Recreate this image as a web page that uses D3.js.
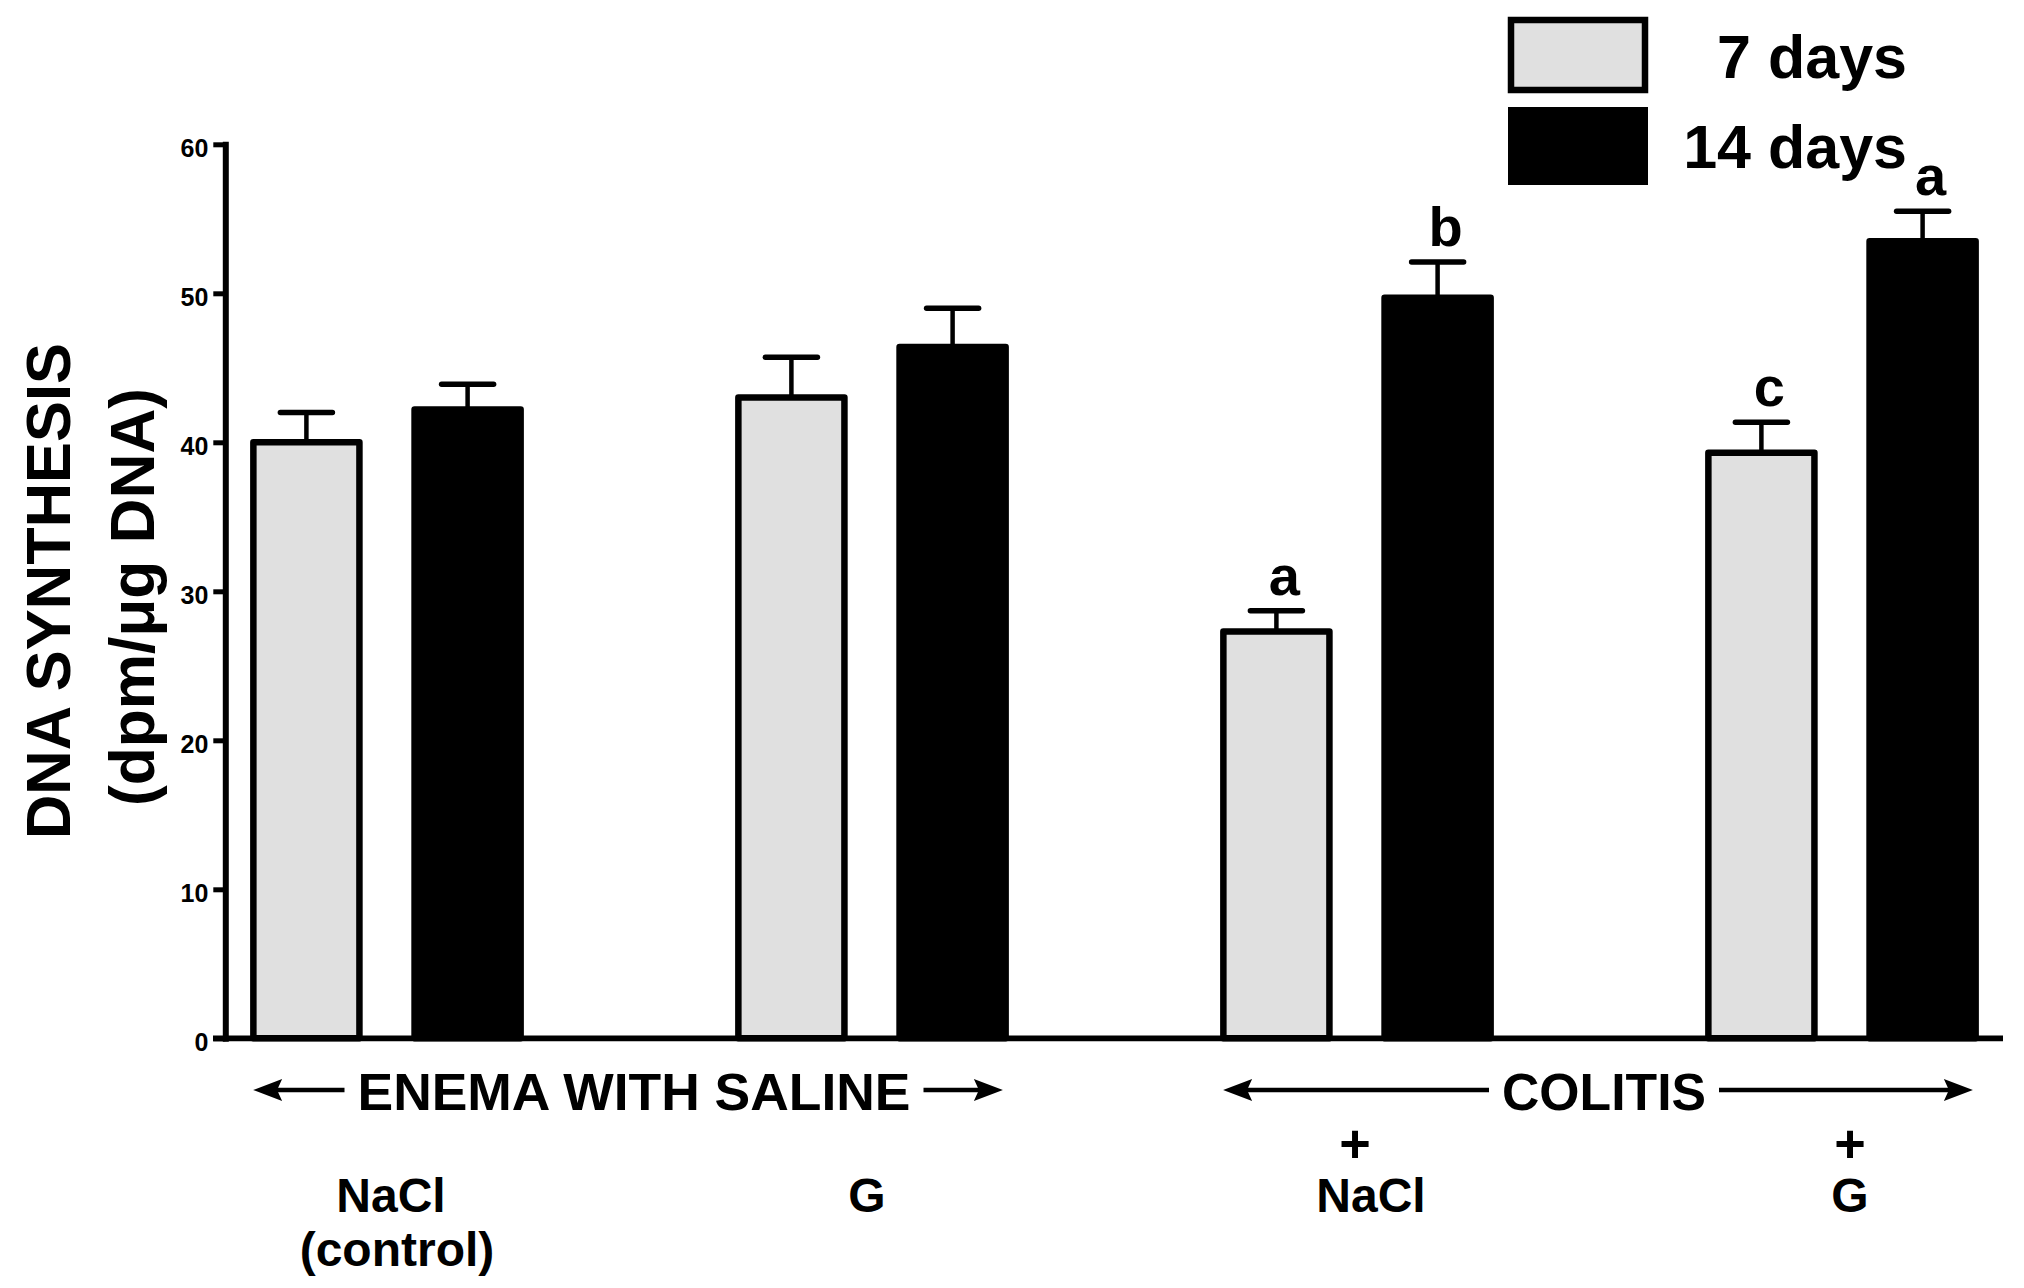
<!DOCTYPE html>
<html>
<head>
<meta charset="utf-8">
<script src="https://cdn.jsdelivr.net/npm/d3@7/dist/d3.min.js"></script>
<style>
  html, body { margin: 0; padding: 0; background: #fff; }
  svg { display: block; }
  text { font-family: "Liberation Sans", Arial, Helvetica, sans-serif; font-weight: bold; fill: #000; }
</style>
</head>
<body>
<svg id="chart" width="2024" height="1288"></svg>
<script>
// ---------------- data ----------------
const groups = ["NaCl (control)", "G", "Colitis + NaCl", "Colitis + G"];
const seriesNames = ["7 days", "14 days"];
const mean7  = [40.0, 43.0, 27.3, 39.3];
const sem7   = [2.0, 2.7, 1.4, 2.05];
const mean14 = [42.2, 46.4, 49.7, 53.5];
const sem14  = [1.7, 2.6, 2.4, 2.0];
const sig7   = ["", "", "a", "c"];
const sig14  = ["", "", "b", "a"];
const yTicks = [0, 10, 20, 30, 40, 50, 60];
const labelPrefix = ["", "", "+", "+"];
const labelMain   = ["NaCl", "G", "NaCl", "G"];
const labelSub    = ["(control)", "", "", ""];
const sections = [
  { name: "ENEMA WITH SALINE", first: 0, last: 1 },
  { name: "COLITIS", first: 2, last: 3 }
];
const yTitle1 = "DNA SYNTHESIS";
const yTitle2 = "(dpm/\u03bcg DNA)";
const seriesFill = ["#e0e0e0", "#000000"];

// ---------------- layout ----------------
const svg = d3.select("#chart");
const FONT = '"Liberation Sans", Arial, Helvetica, sans-serif';
const axisX = 225.3;

const y = d3.scaleLinear().domain([0, 60]).range([1038.3, 144.3]);
const x = d3.scaleBand().domain(groups).range([144.5, 2084.5]).padding(0);
const xSub = d3.scaleBand().domain(seriesNames)
  .range([x.bandwidth() / 2 - 161.2, x.bandwidth() / 2 + 161.2])
  .paddingInner(0.342).paddingOuter(0.171);
const bw = xSub.bandwidth();
const SW = 6.5;

const data = [];
groups.forEach((g, i) => {
  data.push({ g, s: seriesNames[0], si: 0, v: mean7[i], e: sem7[i], sig: sig7[i] });
  data.push({ g, s: seriesNames[1], si: 1, v: mean14[i], e: sem14[i], sig: sig14[i] });
});
const cx = d => x(d.g) + xSub(d.s) + bw / 2;

// ---------------- y axis ----------------
const yAxis = d3.axisLeft(y).tickValues(yTicks).tickSize(12).tickSizeOuter(0).tickPadding(5);
const gy = svg.append("g").attr("transform", `translate(${axisX},0)`).call(yAxis);
gy.select(".domain").attr("stroke", "#000").attr("stroke-width", 6).attr("stroke-linecap", "square");
gy.selectAll(".tick line").attr("stroke", "#000").attr("stroke-width", 5);
gy.selectAll(".tick text")
  .attr("font-family", FONT).attr("font-weight", "bold").attr("font-size", 25)
  .attr("fill", "#000").attr("dy", "0.48em");

// ---------------- bars ----------------
svg.append("g").selectAll("rect").data(data).join("rect")
  .attr("x", d => cx(d) - bw / 2)
  .attr("width", bw)
  .attr("y", d => y(d.v))
  .attr("height", d => y(0) - y(d.v))
  .attr("fill", d => seriesFill[d.si])
  .attr("stroke", "#000")
  .attr("stroke-width", SW)
  .attr("stroke-linejoin", "round");

// error bars
const eg = svg.append("g");
eg.selectAll("line.stem").data(data).join("line").attr("class", "stem")
  .attr("x1", cx).attr("x2", cx)
  .attr("y1", d => y(d.v)).attr("y2", d => y(d.v + d.e))
  .attr("stroke", "#000").attr("stroke-width", 4.5);
eg.selectAll("line.cap").data(data).join("line").attr("class", "cap")
  .attr("x1", d => cx(d) - 26).attr("x2", d => cx(d) + 26)
  .attr("y1", d => y(d.v + d.e)).attr("y2", d => y(d.v + d.e))
  .attr("stroke", "#000").attr("stroke-width", 5.5).attr("stroke-linecap", "round");

// significance letters
svg.append("g").selectAll("text").data(data.filter(d => d.sig)).join("text")
  .attr("x", d => cx(d) + 8)
  .attr("y", d => y(d.v + d.e) - 16)
  .attr("text-anchor", "middle")
  .attr("font-size", 56)
  .text(d => d.sig);

// ---------------- x axis line ----------------
svg.append("line")
  .attr("x1", 213).attr("x2", 2003)
  .attr("y1", y(0)).attr("y2", y(0))
  .attr("stroke", "#000").attr("stroke-width", 5.7);

// ---------------- section arrows ----------------
const arrowY = 1090;
const secTextLen = { "ENEMA WITH SALINE": 553, "COLITIS": 204 };
sections.forEach(sec => {
  const left = x(groups[sec.first]) + xSub(seriesNames[0]) - SW / 2 + 3;
  const right = x(groups[sec.last]) + xSub(seriesNames[1]) + bw + SW / 2 - 6;
  const mid = (left + right) / 2 + 6;
  const tl = secTextLen[sec.name];
  const g = svg.append("g");
  g.append("text")
    .attr("x", mid).attr("y", 1110)
    .attr("text-anchor", "middle")
    .attr("font-size", 51)
    .attr("textLength", tl).attr("lengthAdjust", "spacingAndGlyphs")
    .text(sec.name);
  const tStart = mid - tl / 2, tEnd = mid + tl / 2;
  g.append("line").attr("x1", left + 20).attr("x2", tStart - 13)
    .attr("y1", arrowY).attr("y2", arrowY).attr("stroke", "#000").attr("stroke-width", 4.5);
  g.append("line").attr("x1", tEnd + 13).attr("x2", right - 20)
    .attr("y1", arrowY).attr("y2", arrowY).attr("stroke", "#000").attr("stroke-width", 4.5);
  g.append("path").attr("d", `M${left},${arrowY} L${left + 29},${arrowY - 11} L${left + 24},${arrowY} L${left + 29},${arrowY + 11} Z`).attr("fill", "#000");
  g.append("path").attr("d", `M${right},${arrowY} L${right - 29},${arrowY - 11} L${right - 24},${arrowY} L${right - 29},${arrowY + 11} Z`).attr("fill", "#000");
});

// ---------------- group labels ----------------
const mainDx = [4, -5, 14, 8];     // horizontal nudges of the labels under each group
const prefixDx = [0, 0, -2, 8];
const lg = svg.append("g").attr("text-anchor", "middle").attr("font-size", 48);
groups.forEach((g, i) => {
  const c = x(g) + x.bandwidth() / 2;
  if (labelPrefix[i]) lg.append("text").attr("x", c + prefixDx[i]).attr("y", 1162).attr("font-size", 54).text(labelPrefix[i]);
  lg.append("text").attr("x", c + mainDx[i]).attr("y", 1212).text(labelMain[i]);
  if (labelSub[i]) lg.append("text").attr("x", c + 10).attr("y", 1266).text(labelSub[i]);
});

// ---------------- y title ----------------
svg.append("text")
  .attr("transform", "translate(70,591) rotate(-90)")
  .attr("text-anchor", "middle").attr("font-size", 63)
  .attr("textLength", 496).attr("lengthAdjust", "spacingAndGlyphs")
  .text(yTitle1);
svg.append("text")
  .attr("transform", "translate(154,597) rotate(-90)")
  .attr("text-anchor", "middle").attr("font-size", 63)
  .attr("textLength", 418).attr("lengthAdjust", "spacingAndGlyphs")
  .text(yTitle2);

// ---------------- legend ----------------
const leg = svg.append("g");
leg.append("rect").attr("x", 1511).attr("y", 20).attr("width", 134).attr("height", 70)
  .attr("fill", seriesFill[0]).attr("stroke", "#000").attr("stroke-width", 6.5);
leg.append("rect").attr("x", 1508).attr("y", 107).attr("width", 140).attr("height", 78)
  .attr("fill", seriesFill[1]);
leg.append("text").attr("x", 1907).attr("y", 78).attr("text-anchor", "end").attr("font-size", 61).text(seriesNames[0]);
leg.append("text").attr("x", 1907).attr("y", 168).attr("text-anchor", "end").attr("font-size", 61).text(seriesNames[1]);
</script>
</body>
</html>
